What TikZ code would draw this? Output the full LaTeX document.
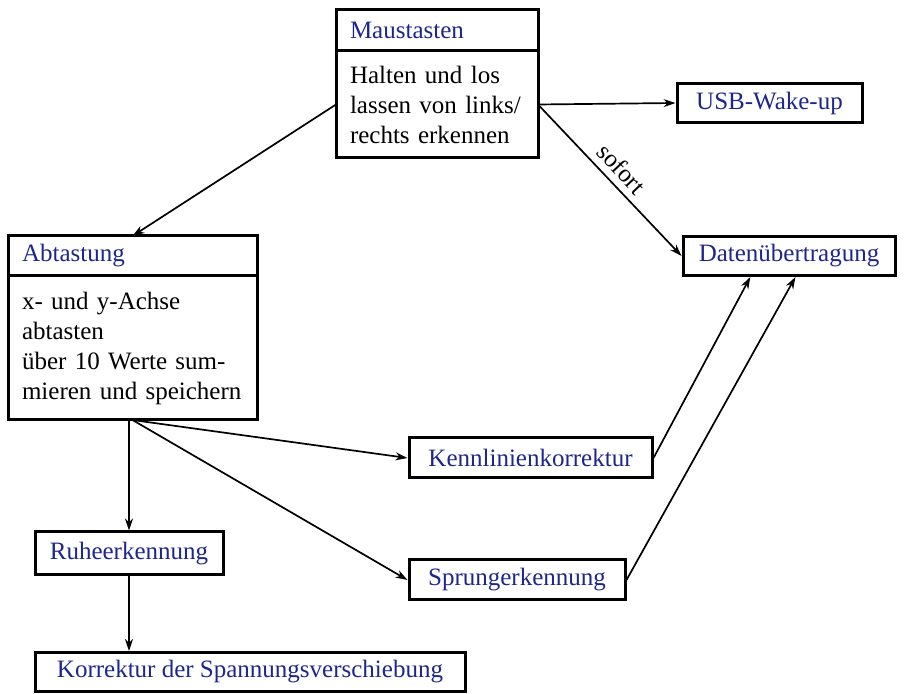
\documentclass[tikz,border=0pt]{standalone}
\usepackage{fontspec}
\setmainfont{Liberation Serif}
\usetikzlibrary{positioning,calc,arrows.meta}
\definecolor{headblue}{RGB}{30,38,140}

\begin{document}
\begin{tikzpicture}[
    x=0.5pt, y=-0.5pt,
    every node/.style={font=\fontsize{12.5}{15}\selectfont},
    head/.style={rectangle, draw, line width=1.5pt, outer sep=0pt, inner xsep=7pt, text=headblue, anchor=north west, minimum height=20.5pt, text width=#1, align=left},
    body/.style={rectangle, draw, line width=1.5pt, outer sep=0pt, inner xsep=7pt, text width=#1, align=left, anchor=north},
    block/.style={rectangle, draw, line width=1.5pt, text=headblue, minimum width=#1, minimum height=19.5pt},
    arrow/.style={-{Stealth[length=6pt, width=4pt]}, line width=0.85pt}
]
\useasboundingbox (0,0) rectangle (905,694);

% Maustasten (top)
\node[head=87pt] (mt) at (336,10) {Maustasten};
\node[body=87pt, minimum height=53.5pt, below=0pt of mt] (mtb) {Halten und los\\ lassen von links/\\ rechts erkennen};

% Abtastung (left)
\node[head=110.5pt, minimum height=20pt] (ab) at (8,236) {Abtastung};
\node[body=110.5pt, minimum height=72pt, below=0pt of ab] (abb) {x- und y-Achse\\ abtasten\\ über 10 Werte sum-\\ mieren und speichern};

% Single boxes
\node[block=92.5pt] (usb) at (769.5,103) {USB-Wake-up};
\node[block=106pt] (dat) at (789,256) {Datenübertragung};
\node[block=121.5pt, minimum height=20pt] (kenn) at (530.5,458) {Kennlinienkorrektur};
\node[block=108pt, minimum height=20pt] (sprung) at (517,580) {Sprungerkennung};
\node[block=94pt, minimum height=21.5pt] (ruhe) at (129,553.5) {Ruheerkennung};
\node[block=215pt] (korr) at (250,672) {Korrektur der Spannungsverschiebung};

% entry points on the bottom of Datenuebertragung
\coordinate (dat-in1) at ($(dat.south west)!0.32!(dat.south east)$);
\coordinate (dat-in2) at ($(dat.south west)!0.53!(dat.south east)$);

% Connections
\draw[arrow] (mtb.west) -- (ab.north);
\draw[arrow] (mtb.east) -- (usb.west);
\draw[arrow] (mtb.east) -- node[sloped, above] (sofort) {sofort} (dat.west);
\draw[arrow] (ruhe.north |- abb.south) -- (ruhe.north);
\draw[arrow] (abb.south) -- (kenn.west);
\draw[arrow] (abb.south) -- (sprung.west);
\draw[arrow] (ruhe.south) -- (ruhe.south |- korr.north);
\draw[arrow] (kenn.east) -- (dat-in1);
\draw[arrow] (sprung.east) -- (dat-in2);

\end{tikzpicture}
\end{document}
